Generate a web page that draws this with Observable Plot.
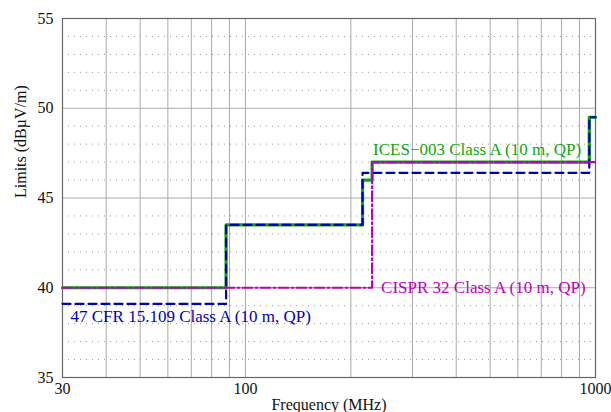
<!DOCTYPE html>
<html>
<head>
<meta charset="utf-8">
<script src="https://cdn.jsdelivr.net/npm/d3@7"></script>
<script src="https://cdn.jsdelivr.net/npm/@observablehq/plot@0.6"></script>
<style>
  html, body { margin: 0; padding: 0; background: #fff; }
</style>
</head>
<body>
<div id="chart"></div>
<script>
// Limit lines (frequency breakpoints in MHz, limit in dBµV/m), step-after
const cisprFreq = [30, 230, 1000];
const cisprLimit = [40, 47, 47];
const icesFreq = [30, 88, 216, 230, 960, 1000];
const icesLimit = [40, 43.5, 46, 47, 49.5, 49.5];
const fccFreq = [30, 88, 216, 960, 1000];
const fccLimit = [39.1, 43.5, 46.4, 49.5, 49.5];

// Axis ticks & grid
const xTicks = [30, 100, 1000];
const xGrid = [40, 50, 60, 70, 80, 90, 100, 200, 300, 400, 500, 600, 700, 800, 900];
const yTicks = [35, 40, 45, 50, 55];
const yMinor = [36, 37, 38, 39, 41, 42, 43, 44, 46, 47, 48, 49, 51, 52, 53, 54];

const cisprName = "CISPR 32 Class A (10 m, QP)";
const icesName = "ICES\u2212003 Class A (10 m, QP)";
const fccName = "47 CFR 15.109 Class A (10 m, QP)";

const toRows = (fs, vs) => fs.map((f, i) => ({f, v: vs[i]}));
const cispr = toRows(cisprFreq, cisprLimit);
const ices = toRows(icesFreq, icesLimit);
const fcc = toRows(fccFreq, fccLimit);

const font = "'Liberation Serif', 'Times New Roman', serif";
const green = "#11a511";
const blue = "#0000bb";
const magenta = "#bb00bb";

const chart = Plot.plot({
  width: 611,
  height: 412,
  marginLeft: 62,
  marginRight: 16,
  marginTop: 18,
  marginBottom: 35,
  style: {fontFamily: font, fontSize: "16px", background: "#fff"},
  x: {type: "log", domain: [30, 1000]},
  y: {domain: [35, 55]},
  marks: [
    Plot.ruleY(yMinor, {stroke: "#999", strokeWidth: 1, strokeDasharray: "1,5"}),
    Plot.ruleX(xGrid, {stroke: "#aaa", strokeWidth: 1}),
    Plot.ruleY(yTicks, {stroke: "#aaa", strokeWidth: 1}),
    Plot.frame({stroke: "#666", strokeWidth: 1.2}),
    Plot.axisX(xTicks, {tickSize: 0, tickPadding: 5, tickFormat: d => String(d), fontSize: 16, label: null, fill: "#111"}),
    Plot.axisY(yTicks, {tickSize: 0, tickPadding: 9, fontSize: 16, label: null, fill: "#111"}),
    Plot.line(ices, {x: "f", y: "v", curve: "step-after", stroke: green, strokeWidth: 3.2}),
    Plot.line(fcc, {x: "f", y: "v", curve: "step-after", stroke: blue, strokeWidth: 2.2, strokeDasharray: "8,5"}),
    Plot.line(cispr, {x: "f", y: "v", curve: "step-after", stroke: magenta, strokeWidth: 2.2, strokeDasharray: "10,3,2,3"}),
    Plot.text([cisprName], {x: cisprFreq[1], y: cisprLimit[0], text: d => d, textAnchor: "start", lineAnchor: "middle", dx: 9, fill: magenta, fontSize: 17}),
    Plot.text([icesName], {x: icesFreq[3], y: icesLimit[3], text: d => d, textAnchor: "start", lineAnchor: "middle", dx: 1, dy: -13, fill: green, fontSize: 17}),
    Plot.text([fccName], {x: fccFreq[0], y: fccLimit[0], text: d => d, textAnchor: "start", lineAnchor: "middle", dx: 8, dy: 13, fill: blue, fontSize: 17}),
    Plot.text(["Frequency (MHz)"], {frameAnchor: "bottom", text: d => d, dy: 27, lineAnchor: "middle", fontSize: 16, fill: "#111"}),
    Plot.text(["Limits (dB\u00b5V/m)"], {frameAnchor: "left", text: d => d, rotate: -90, dx: -42, lineAnchor: "middle", fontSize: 16, fill: "#111"})
  ]
});
document.getElementById("chart").appendChild(chart);
</script>
</body>
</html>
